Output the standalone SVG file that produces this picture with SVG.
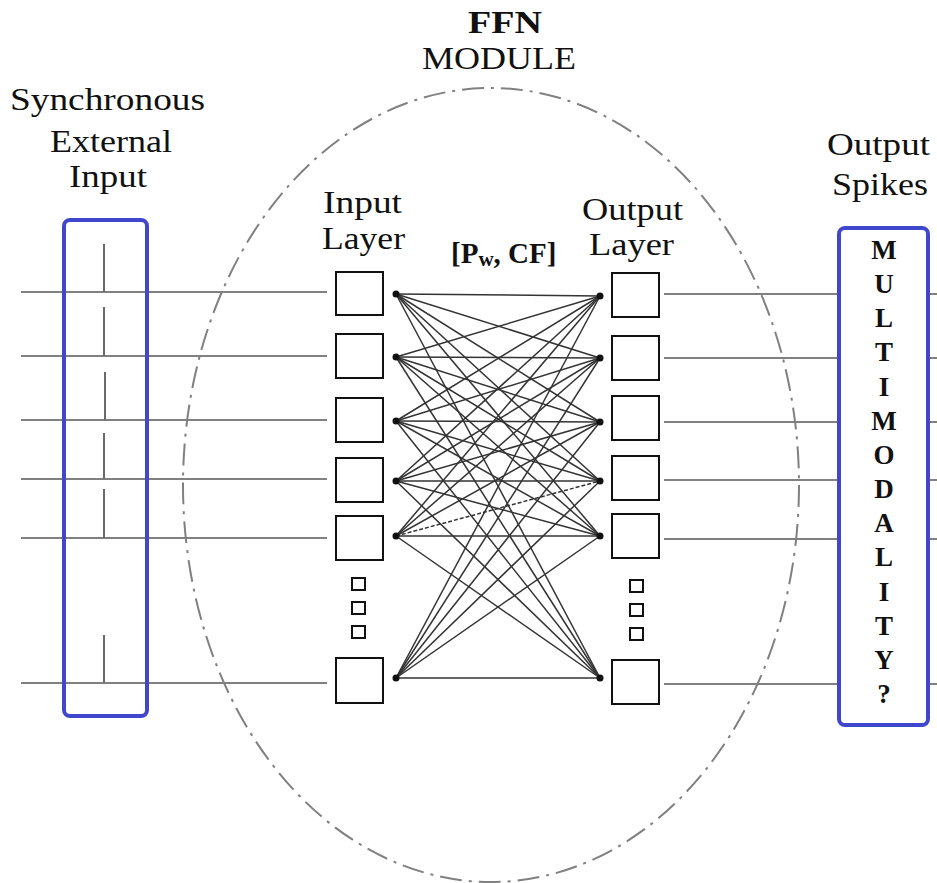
<svg xmlns="http://www.w3.org/2000/svg" width="937" height="883" viewBox="0 0 937 883">
<style>
.t{font-family:"Liberation Serif","Times New Roman",serif;fill:#111;font-size:32px}
.tb{font-family:"Liberation Serif","Times New Roman",serif;fill:#111;font-weight:bold}
.g{stroke:#808080;stroke-width:2;fill:none}
.tick{stroke:#6a6a6a;stroke-width:2}
.net{stroke:#333;stroke-width:1.5}
.sq{fill:#fff;stroke:#111;stroke-width:2}
.blue{fill:none;stroke:#3f48cc;stroke-width:4}
.dot{fill:#111}
</style>
<rect width="937" height="883" fill="#fff"/>
<g id="module-boundary">
<ellipse cx="491" cy="485" rx="308" ry="397" fill="none" stroke="#808080" stroke-width="2" stroke-dasharray="22 7 3 7"/>
</g>
<g id="labels">
<text class="tb" x="468" y="33" font-size="32" textLength="74" lengthAdjust="spacingAndGlyphs">FFN</text>
<text class="t" x="422" y="69" textLength="154" lengthAdjust="spacingAndGlyphs">MODULE</text>
<text class="t" x="10" y="110" textLength="195" lengthAdjust="spacingAndGlyphs">Synchronous</text>
<text class="t" x="50" y="152" textLength="122" lengthAdjust="spacingAndGlyphs">External</text>
<text class="t" x="69" y="187" textLength="78" lengthAdjust="spacingAndGlyphs">Input</text>
<text class="t" x="323" y="213" font-size="30" textLength="79" lengthAdjust="spacingAndGlyphs">Input</text>
<text class="t" x="322" y="249" font-size="30" textLength="83" lengthAdjust="spacingAndGlyphs">Layer</text>
<text class="t" x="582" y="220" font-size="30" textLength="101" lengthAdjust="spacingAndGlyphs">Output</text>
<text class="t" x="589" y="255" font-size="30" textLength="85" lengthAdjust="spacingAndGlyphs">Layer</text>
<text class="t" x="827" y="155" textLength="103" lengthAdjust="spacingAndGlyphs">Output</text>
<text class="t" x="832" y="195" textLength="96" lengthAdjust="spacingAndGlyphs">Spikes</text>
<text class="tb" x="451" y="263" font-size="29">[P<tspan font-size="21" dy="3">w</tspan><tspan dy="-3">, CF]</tspan></text>
</g>
<g id="connectors">
<g class="g">
<line x1="21" y1="292" x2="327" y2="292"/>
<line x1="21" y1="356" x2="327" y2="356"/>
<line x1="21" y1="420" x2="327" y2="420"/>
<line x1="21" y1="479" x2="327" y2="479"/>
<line x1="21" y1="538" x2="327" y2="538"/>
<line x1="21" y1="683" x2="327" y2="683"/>
<line x1="664" y1="294" x2="838" y2="294"/><line x1="929" y1="294" x2="937" y2="294"/>
<line x1="664" y1="358" x2="838" y2="358"/><line x1="929" y1="358" x2="937" y2="358"/>
<line x1="664" y1="422" x2="838" y2="422"/><line x1="929" y1="422" x2="937" y2="422"/>
<line x1="664" y1="480" x2="838" y2="480"/><line x1="929" y1="480" x2="937" y2="480"/>
<line x1="664" y1="539" x2="838" y2="539"/><line x1="929" y1="539" x2="937" y2="539"/>
<line x1="664" y1="684" x2="838" y2="684"/><line x1="929" y1="684" x2="937" y2="684"/>
</g>
<g class="tick">
<line x1="104" y1="244" x2="104" y2="292"/>
<line x1="104" y1="307" x2="104" y2="356"/>
<line x1="105" y1="372" x2="105" y2="420"/>
<line x1="104" y1="433" x2="104" y2="479"/>
<line x1="104" y1="489" x2="104" y2="538"/>
<line x1="104" y1="635" x2="104" y2="683"/>
</g>
<g class="net">
<line x1="396" y1="294" x2="600" y2="296"/><line x1="396" y1="294" x2="600" y2="358"/><line x1="396" y1="294" x2="600" y2="422"/><line x1="396" y1="294" x2="600" y2="481"/><line x1="396" y1="294" x2="600" y2="536"/><line x1="396" y1="294" x2="600" y2="678"/>
<line x1="396" y1="357" x2="600" y2="296"/><line x1="396" y1="357" x2="600" y2="358"/><line x1="396" y1="357" x2="600" y2="422"/><line x1="396" y1="357" x2="600" y2="481"/><line x1="396" y1="357" x2="600" y2="536"/><line x1="396" y1="357" x2="600" y2="678"/>
<line x1="396" y1="421" x2="600" y2="296"/><line x1="396" y1="421" x2="600" y2="358"/><line x1="396" y1="421" x2="600" y2="422"/><line x1="396" y1="421" x2="600" y2="481"/><line x1="396" y1="421" x2="600" y2="536"/><line x1="396" y1="421" x2="600" y2="678"/>
<line x1="396" y1="481" x2="600" y2="296"/><line x1="396" y1="481" x2="600" y2="358"/><line x1="396" y1="481" x2="600" y2="422"/><line x1="396" y1="481" x2="600" y2="481"/><line x1="396" y1="481" x2="600" y2="536"/><line x1="396" y1="481" x2="600" y2="678"/>
<line x1="396" y1="536" x2="600" y2="296"/><line x1="396" y1="536" x2="600" y2="358"/><line x1="396" y1="536" x2="600" y2="422"/><line x1="396" y1="536" x2="600" y2="481" stroke-dasharray="4 2"/><line x1="396" y1="536" x2="600" y2="536"/><line x1="396" y1="536" x2="600" y2="678"/>
<line x1="396" y1="678" x2="600" y2="296"/><line x1="396" y1="678" x2="600" y2="358"/><line x1="396" y1="678" x2="600" y2="422"/><line x1="396" y1="678" x2="600" y2="481"/><line x1="396" y1="678" x2="600" y2="536"/><line x1="396" y1="678" x2="600" y2="678"/>
</g>
</g>
<g id="external-input-box"><rect class="blue" x="64" y="220" width="83" height="496" rx="6"/></g>
<g id="output-spikes-box">
<rect class="blue" x="839" y="228" width="89" height="497" rx="6"/>
<g class="tb" font-size="27" text-anchor="middle">
<text x="884" y="259">M</text><text x="884" y="293">U</text><text x="884" y="327">L</text><text x="884" y="361">T</text><text x="884" y="396">I</text><text x="884" y="430">M</text><text x="884" y="464">O</text><text x="884" y="498">D</text><text x="884" y="532">A</text><text x="884" y="566">L</text><text x="884" y="601">I</text><text x="884" y="635">T</text><text x="884" y="669">Y</text><text x="884" y="703">?</text>
</g>
</g>
<g id="input-layer">
<rect class="sq" x="336" y="272" width="47" height="43"/>
<rect class="sq" x="336" y="334" width="47" height="44"/>
<rect class="sq" x="336" y="398" width="47" height="44"/>
<rect class="sq" x="336" y="458" width="47" height="44"/>
<rect class="sq" x="336" y="516" width="47" height="44"/>
<rect class="sq" x="352" y="578" width="13" height="12"/>
<rect class="sq" x="352" y="602" width="13" height="12"/>
<rect class="sq" x="352" y="626" width="13" height="12"/>
<rect class="sq" x="336" y="658" width="47" height="45"/>
<g class="dot"><circle cx="396" cy="294" r="3.5"/><circle cx="396" cy="357" r="3.5"/><circle cx="396" cy="421" r="3.5"/><circle cx="396" cy="481" r="3.5"/><circle cx="396" cy="536" r="3.5"/><circle cx="396" cy="678" r="3.5"/></g>
</g>
<g id="output-layer">
<rect class="sq" x="612" y="273" width="47" height="44"/>
<rect class="sq" x="612" y="336" width="47" height="44"/>
<rect class="sq" x="612" y="396" width="47" height="44"/>
<rect class="sq" x="612" y="456" width="47" height="44"/>
<rect class="sq" x="612" y="514" width="47" height="44"/>
<rect class="sq" x="630" y="580" width="13" height="12"/>
<rect class="sq" x="630" y="604" width="13" height="12"/>
<rect class="sq" x="630" y="628" width="13" height="12"/>
<rect class="sq" x="612" y="660" width="47" height="44"/>
<g class="dot"><circle cx="600" cy="296" r="3.5"/><circle cx="600" cy="358" r="3.5"/><circle cx="600" cy="422" r="3.5"/><circle cx="600" cy="481" r="3.5"/><circle cx="600" cy="536" r="3.5"/><circle cx="600" cy="678" r="3.5"/></g>
</g>
</svg>
